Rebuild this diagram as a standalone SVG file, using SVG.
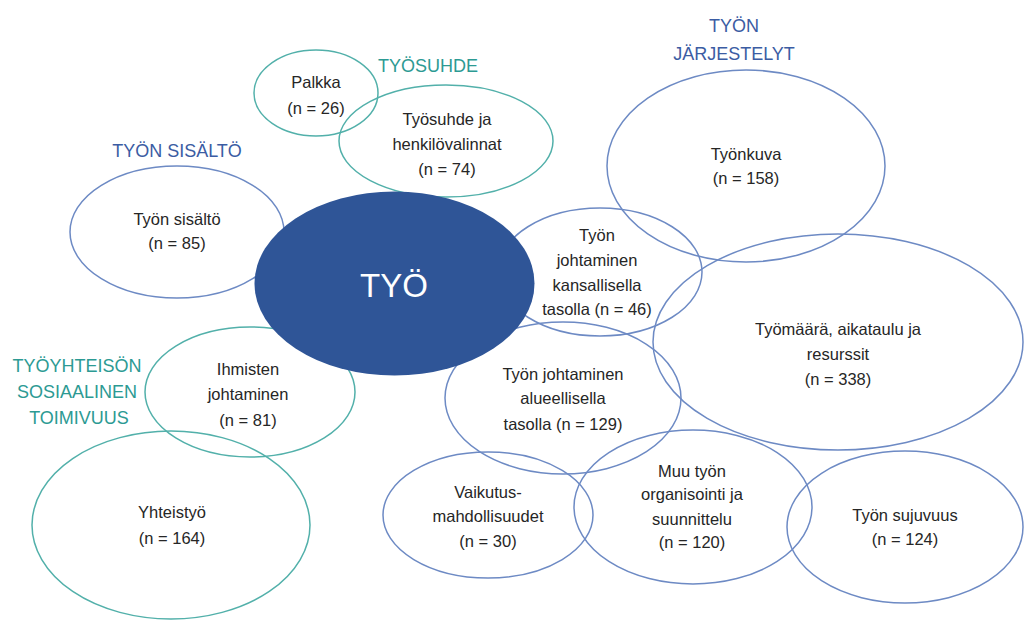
<svg xmlns="http://www.w3.org/2000/svg" width="1025" height="623" viewBox="0 0 1025 623">
<style>
.t{stroke:#52B0AA;stroke-width:1.5;fill:none}
.b{stroke:#6D8AC4;stroke-width:1.5;fill:none}
.lbl{font-family:"Liberation Sans",Arial,sans-serif;font-size:16.5px;fill:#262626;text-anchor:middle}
.ht{font-family:"Liberation Sans",Arial,sans-serif;font-size:18px;fill:#2C9A93;text-anchor:middle}
.hb{font-family:"Liberation Sans",Arial,sans-serif;font-size:18px;fill:#3B5CA3;text-anchor:middle}
</style>
<rect width="1025" height="623" fill="#ffffff"/>
<g id="headings">
<text class="ht" x="428" y="72">TYÖSUHDE</text>
<text class="hb" x="177" y="157">TYÖN SISÄLTÖ</text>
<text class="hb" x="734" y="32">TYÖN</text>
<text class="hb" x="734" y="60">JÄRJESTELYT</text>
<text class="ht" x="77" y="372">TYÖYHTEISÖN</text>
<text class="ht" x="77" y="398">SOSIAALINEN</text>
<text class="ht" x="79" y="424">TOIMIVUUS</text>
</g>
<g id="palkka">
<ellipse class="t" cx="316" cy="93" rx="62" ry="43"/>
<text class="lbl" x="316" y="88">Palkka</text>
<text class="lbl" x="316" y="114">(n = 26)</text>
</g>
<g id="tyosuhde">
<ellipse class="t" cx="446" cy="141" rx="107" ry="56"/>
<text class="lbl" x="447" y="125">Työsuhde ja</text>
<text class="lbl" x="447" y="150">henkilövalinnat</text>
<text class="lbl" x="447" y="175">(n = 74)</text>
</g>
<g id="tyon-sisalto">
<ellipse class="b" cx="177" cy="232" rx="107" ry="66"/>
<text class="lbl" x="177" y="225">Työn sisältö</text>
<text class="lbl" x="177" y="249">(n = 85)</text>
</g>
<g id="ihmisten">
<ellipse class="t" cx="250" cy="392" rx="105" ry="65"/>
<text class="lbl" x="248" y="375">Ihmisten</text>
<text class="lbl" x="248" y="400">johtaminen</text>
<text class="lbl" x="248" y="426">(n = 81)</text>
</g>
<g id="yhteistyo">
<ellipse class="t" cx="171" cy="525" rx="139" ry="94"/>
<text class="lbl" x="172" y="518">Yhteistyö</text>
<text class="lbl" x="172" y="544">(n = 164)</text>
</g>
<g id="tyonkuva">
<ellipse class="b" cx="746" cy="166" rx="139" ry="96"/>
<text class="lbl" x="746" y="160">Työnkuva</text>
<text class="lbl" x="746" y="184">(n = 158)</text>
</g>
<g id="kansallinen">
<ellipse class="b" cx="600" cy="272" rx="102" ry="64"/>
<text class="lbl" x="597" y="241">Työn</text>
<text class="lbl" x="597" y="266">johtaminen</text>
<text class="lbl" x="597" y="291">kansallisella</text>
<text class="lbl" x="597" y="315">tasolla (n = 46)</text>
</g>
<g id="tyomaara">
<ellipse class="b" cx="838" cy="342" rx="185" ry="108"/>
<text class="lbl" x="838" y="335">Työmäärä, aikataulu ja</text>
<text class="lbl" x="838" y="360">resurssit</text>
<text class="lbl" x="838" y="385">(n = 338)</text>
</g>
<g id="alueellinen">
<ellipse class="b" cx="563" cy="398" rx="118" ry="76"/>
<text class="lbl" x="563" y="380">Työn johtaminen</text>
<text class="lbl" x="563" y="404">alueellisella</text>
<text class="lbl" x="563" y="430">tasolla (n = 129)</text>
</g>
<g id="vaikutus">
<ellipse class="b" cx="488" cy="515" rx="105" ry="63"/>
<text class="lbl" x="488" y="498">Vaikutus-</text>
<text class="lbl" x="488" y="522">mahdollisuudet</text>
<text class="lbl" x="488" y="547">(n = 30)</text>
</g>
<g id="muu">
<ellipse class="b" cx="693" cy="507" rx="119" ry="77"/>
<text class="lbl" x="692" y="477">Muu työn</text>
<text class="lbl" x="692" y="500">organisointi ja</text>
<text class="lbl" x="692" y="525">suunnittelu</text>
<text class="lbl" x="692" y="548">(n = 120)</text>
</g>
<g id="sujuvuus">
<ellipse class="b" cx="905" cy="527" rx="118" ry="76"/>
<text class="lbl" x="905" y="521">Työn sujuvuus</text>
<text class="lbl" x="905" y="545">(n = 124)</text>
</g>
<g id="tyo">
<ellipse cx="394.5" cy="283.5" rx="140" ry="92" fill="#2F5597"/>
<text x="394" y="297" font-family="Liberation Sans, Arial, sans-serif" font-size="33" fill="#ffffff" text-anchor="middle">TYÖ</text>
</g>
<g id="connectors"/>
</svg>
